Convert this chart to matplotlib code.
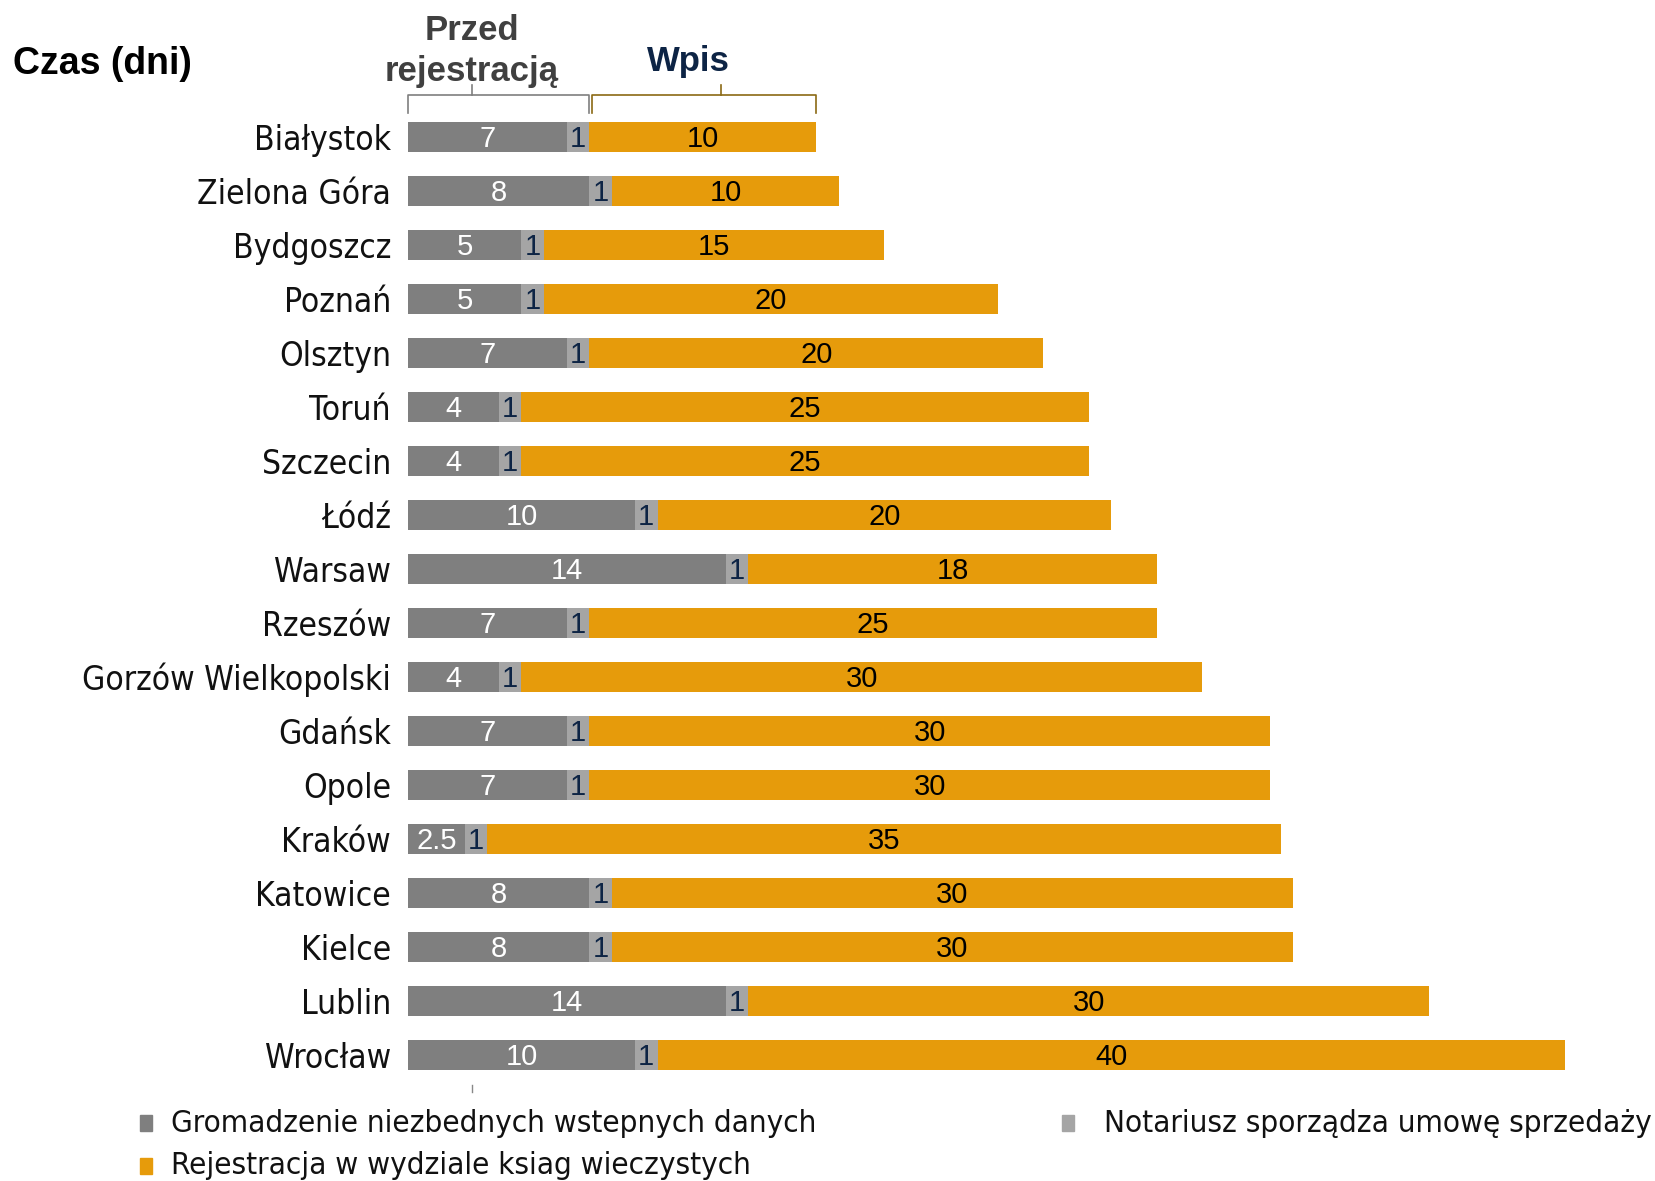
import matplotlib
matplotlib.use("Agg")
import matplotlib.pyplot as plt
from matplotlib.patches import Rectangle
import numpy as np

# data
cities = ["Białystok", "Zielona Góra", "Bydgoszcz", "Poznań", "Olsztyn", "Toruń",
          "Szczecin", "Łódź", "Warsaw", "Rzeszów", "Gorzów Wielkopolski", "Gdańsk",
          "Opole", "Kraków", "Katowice", "Kielce", "Lublin", "Wrocław"]
prep = [7, 8, 5, 5, 7, 4, 4, 10, 14, 7, 4, 7, 7, 2.5, 8, 8, 14, 10]
notary = [1] * 18
registry = [10, 10, 15, 20, 20, 25, 25, 20, 18, 25, 30, 30, 30, 35, 30, 30, 30, 40]
legend_labels = ["Gromadzenie niezbednych wstepnych danych",
                 "Notariusz sporządza umowę sprzedaży",
                 "Rejestracja w wydziale ksiag wieczystych"]

c_prep = "#7f7f7f"
c_not = "#a5a5a5"
c_reg = "#e69b0b"
navy = "#0d2445"
sans = ["DejaVu Sans"]
arial = ["Liberation Sans", "DejaVu Sans"]

W, H = 1656, 1181
fig = plt.figure(figsize=(W / 100, H / 100), dpi=100, facecolor="white")

def fx(x):
    return x / W

def fy(y):
    return 1 - y / H

# axes: bars from x=408px (0 days) to 1565px (51 days), rows 137..1055 px
ax = fig.add_axes([fx(408), fy(1082), fx(1565) - fx(408), fy(110) - fy(1082)])
ax.set_xlim(0, 51)
ax.set_ylim(17.5, -0.5)
ax.axis("off")

y = np.arange(len(cities))
prep = np.array(prep)
notary = np.array(notary)
registry = np.array(registry)
bh = 0.57
ax.barh(y, prep, height=bh, color=c_prep)
ax.barh(y, notary, left=prep, height=bh, color=c_not)
ax.barh(y, registry, left=prep + notary, height=bh, color=c_reg)

for i in range(len(cities)):
    ax.text(prep[i] / 2, i + 0.04, f"{prep[i]:g}", ha="center", va="center",
            color="white", fontsize=21, family=arial)
    ax.text(prep[i] + notary[i] / 2, i + 0.04, f"{notary[i]:g}", ha="center",
            va="center", color=navy, fontsize=21, family=arial)
    ax.text(prep[i] + notary[i] + registry[i] / 2, i + 0.04, f"{registry[i]:g}",
            ha="center", va="center", color="black", fontsize=21, family=arial)
    ax.text(-0.75, i + 0.06, cities[i], ha="right", va="center", fontsize=24,
            family=sans, fontstretch="condensed", fontweight="medium",
            color="#111111")

# brackets above the first bar
def bracket(x0, x1, xt, col):
    yb, yt, ytip = -0.44, -0.78, -0.96
    ax.plot([x0, x0, x1, x1], [yb, yt, yt, yb], color=col, lw=1.2, clip_on=False)
    ax.plot([xt, xt], [yt, ytip], color=col, lw=1.2, clip_on=False)

bracket(0, 8, 2.8, "#7f7f7f")
bracket(8.1, 18, 13.8, "#8b6a14")

# small stray tick below the chart
ax.plot([2.8, 2.8], [17.55, 17.68], color="#888888", lw=1, clip_on=False)

fig.text(fx(13), fy(64), "Czas (dni)", fontsize=27, fontweight="bold",
         family=arial, ha="left", va="center")
fig.text(fx(472), fy(30), "Przed", fontsize=25, fontweight="bold",
         family=arial, color="#404040", ha="center", va="center")
fig.text(fx(472), fy(71), "rejestracją", fontsize=25, fontweight="bold",
         family=arial, color="#404040", ha="center", va="center")
fig.text(fx(688), fy(62), "Wpis", fontsize=25, fontweight="bold",
         family=arial, color=navy, ha="center", va="center")

# legend drawn by hand
leg = [(140, 171, 1123, c_prep, legend_labels[0]),
       (1062, 1104, 1123, c_not, legend_labels[1]),
       (140, 171, 1166, c_reg, legend_labels[2])]
for mx, tx, ty, col, lab in leg:
    fig.patches.append(Rectangle((fx(mx), fy(ty + 8)), fx(12), 16 / H,
                                 transform=fig.transFigure, color=col))
    fig.text(fx(tx), fy(ty), lab, fontsize=22.5, family=sans,
             fontstretch="condensed", ha="left", va="center", color="#111111")

fig.savefig("out.png", dpi=100, facecolor="white")
